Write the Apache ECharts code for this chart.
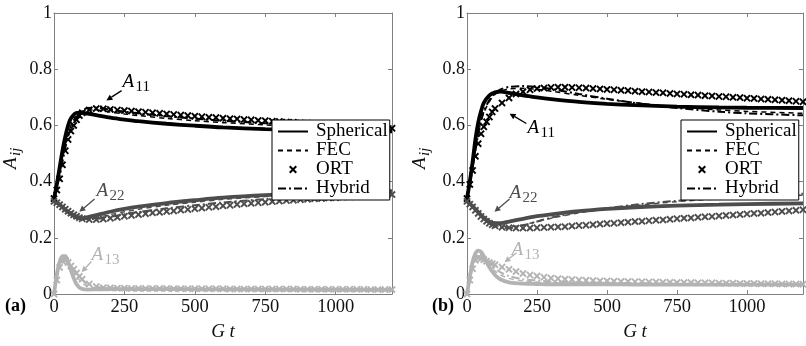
<!DOCTYPE html>
<html>
<head>
<meta charset="utf-8">
<script src="https://cdn.jsdelivr.net/npm/echarts@6/dist/echarts.min.js"></script>
<style>
html, body { margin: 0; padding: 0; background: #fff; }
#chart { width: 806px; height: 346px; }
</style>
</head>
<body>
<div id="chart"></div>
<script>
// time grids (G t)
const tLine = [0, 10, 20, 30, 40, 50, 60, 80, 100, 120, 150, 200, 250, 300, 400, 500, 600, 750, 900, 1000, 1200];
const tOrt = [0, 10, 20, 30, 40, 50, 60, 70, 80, 90, 100,
  125, 150, 175, 200, 225, 250, 275, 300, 325, 350, 375, 400, 425, 450, 475, 500,
  525, 550, 575, 600, 625, 650, 675, 700, 725, 750, 775, 800, 825, 850, 875, 900,
  925, 950, 975, 1000, 1025, 1050, 1075, 1100, 1125, 1150, 1175, 1200];
const xTicks = [0, 250, 500, 750, 1000];
const yTicks = [0, 0.2, 0.4, 0.6, 0.8, 1];
const models = ['Spherical', 'FEC', 'ORT', 'Hybrid'];

// panel (a)
const a_sph_A11 = [0.34, 0.39, 0.45, 0.51, 0.56, 0.60, 0.625, 0.645, 0.645, 0.642, 0.637, 0.628, 0.621, 0.615, 0.606, 0.599, 0.593, 0.587, 0.583, 0.581, 0.579];
const a_fec_A11 = [0.34, 0.38, 0.43, 0.48, 0.53, 0.57, 0.60, 0.635, 0.65, 0.655, 0.655, 0.648, 0.641, 0.635, 0.625, 0.617, 0.61, 0.602, 0.596, 0.593, 0.589];
const a_hyb_A11 = [0.34, 0.38, 0.42, 0.47, 0.52, 0.56, 0.59, 0.63, 0.652, 0.662, 0.663, 0.656, 0.649, 0.643, 0.633, 0.624, 0.617, 0.608, 0.601, 0.597, 0.592];
const a_sph_A22 = [0.33, 0.325, 0.318, 0.31, 0.30, 0.292, 0.285, 0.273, 0.27, 0.274, 0.281, 0.293, 0.303, 0.311, 0.324, 0.334, 0.343, 0.352, 0.358, 0.361, 0.366];
const a_fec_A22 = [0.33, 0.325, 0.318, 0.31, 0.301, 0.293, 0.286, 0.274, 0.268, 0.268, 0.272, 0.283, 0.293, 0.302, 0.316, 0.327, 0.337, 0.347, 0.354, 0.357, 0.362];
const a_hyb_A22 = [0.33, 0.325, 0.318, 0.31, 0.301, 0.294, 0.287, 0.276, 0.269, 0.267, 0.268, 0.275, 0.284, 0.292, 0.305, 0.316, 0.326, 0.338, 0.347, 0.351, 0.358];
const a_sph_A13 = [0, 0.07, 0.115, 0.135, 0.135, 0.115, 0.085, 0.035, 0.018, 0.016, 0.017, 0.018, 0.018, 0.018, 0.018, 0.017, 0.017, 0.016, 0.016, 0.015, 0.015];
const a_fec_A13 = [0, 0.06, 0.105, 0.127, 0.13, 0.118, 0.1, 0.065, 0.04, 0.028, 0.022, 0.02, 0.02, 0.019, 0.019, 0.018, 0.018, 0.017, 0.017, 0.017, 0.016];
const a_hyb_A13 = [0, 0.055, 0.1, 0.122, 0.125, 0.115, 0.1, 0.072, 0.05, 0.035, 0.026, 0.022, 0.021, 0.02, 0.019, 0.019, 0.018, 0.018, 0.017, 0.017, 0.016];
const a_ort_A11 = [0.34, 0.37, 0.41, 0.46, 0.51, 0.55, 0.58, 0.60, 0.62, 0.635, 0.645,
  0.655, 0.66, 0.659, 0.657, 0.655, 0.653, 0.651, 0.649, 0.647, 0.645, 0.643, 0.641, 0.639, 0.637, 0.635, 0.633,
  0.631, 0.629, 0.628, 0.626, 0.624, 0.623, 0.621, 0.62, 0.618, 0.617, 0.615, 0.614, 0.612, 0.611, 0.609, 0.608,
  0.606, 0.605, 0.603, 0.602, 0.6, 0.599, 0.597, 0.596, 0.594, 0.593, 0.591, 0.59];
const a_ort_A22 = [0.33, 0.325, 0.318, 0.31, 0.302, 0.295, 0.288, 0.282, 0.277, 0.272, 0.268,
  0.265, 0.265, 0.267, 0.27, 0.273, 0.277, 0.28, 0.283, 0.286, 0.289, 0.291, 0.294, 0.296, 0.299, 0.301, 0.304,
  0.306, 0.309, 0.311, 0.314, 0.316, 0.319, 0.321, 0.323, 0.325, 0.327, 0.329, 0.331, 0.333, 0.334, 0.336, 0.337,
  0.339, 0.34, 0.342, 0.343, 0.345, 0.346, 0.347, 0.349, 0.35, 0.351, 0.353, 0.354];
const a_ort_A13 = [0, 0.05, 0.095, 0.118, 0.12, 0.112, 0.1, 0.088, 0.075, 0.063, 0.053,
  0.036, 0.027, 0.023, 0.022, 0.021, 0.021, 0.02, 0.02, 0.02, 0.02, 0.02, 0.02, 0.019, 0.019, 0.019, 0.019,
  0.019, 0.019, 0.019, 0.019, 0.018, 0.018, 0.018, 0.018, 0.018, 0.018, 0.018, 0.018, 0.018, 0.018, 0.017, 0.017,
  0.017, 0.017, 0.017, 0.017, 0.017, 0.017, 0.017, 0.017, 0.016, 0.016, 0.016, 0.016];

// panel (b)
const b_sph_A11 = [0.34, 0.40, 0.47, 0.55, 0.61, 0.65, 0.68, 0.707, 0.718, 0.72, 0.716, 0.707, 0.70, 0.694, 0.684, 0.677, 0.672, 0.667, 0.664, 0.663, 0.662];
const b_fec_A11 = [0.34, 0.39, 0.45, 0.51, 0.57, 0.615, 0.645, 0.685, 0.71, 0.722, 0.73, 0.732, 0.728, 0.722, 0.707, 0.693, 0.681, 0.666, 0.655, 0.65, 0.643];
const b_hyb_A11 = [0.34, 0.39, 0.45, 0.51, 0.57, 0.615, 0.65, 0.69, 0.715, 0.728, 0.737, 0.74, 0.737, 0.73, 0.712, 0.695, 0.68, 0.662, 0.649, 0.643, 0.636];
const b_sph_A22 = [0.33, 0.322, 0.313, 0.302, 0.292, 0.281, 0.272, 0.258, 0.252, 0.252, 0.258, 0.268, 0.277, 0.284, 0.295, 0.303, 0.309, 0.315, 0.318, 0.32, 0.323];
const b_fec_A22 = [0.33, 0.322, 0.312, 0.301, 0.29, 0.279, 0.27, 0.255, 0.245, 0.241, 0.24, 0.246, 0.258, 0.27, 0.289, 0.303, 0.315, 0.329, 0.339, 0.344, 0.352];
const b_hyb_A22 = [0.33, 0.322, 0.312, 0.30, 0.289, 0.278, 0.268, 0.252, 0.242, 0.237, 0.235, 0.245, 0.258, 0.272, 0.292, 0.305, 0.318, 0.332, 0.342, 0.348, 0.357];
const b_sph_A13 = [0, 0.06, 0.115, 0.145, 0.155, 0.15, 0.135, 0.095, 0.068, 0.052, 0.042, 0.037, 0.036, 0.035, 0.035, 0.035, 0.034, 0.034, 0.034, 0.034, 0.034];
const b_fec_A13 = [0, 0.055, 0.1, 0.13, 0.14, 0.135, 0.125, 0.1, 0.082, 0.068, 0.056, 0.047, 0.043, 0.041, 0.039, 0.038, 0.037, 0.036, 0.035, 0.035, 0.034];
const b_hyb_A13 = [0, 0.05, 0.095, 0.125, 0.135, 0.132, 0.124, 0.105, 0.09, 0.077, 0.064, 0.053, 0.048, 0.045, 0.042, 0.04, 0.039, 0.037, 0.036, 0.036, 0.035];
const b_ort_A11 = [0.34, 0.39, 0.44, 0.49, 0.535, 0.57, 0.595, 0.613, 0.63, 0.648, 0.66,
  0.68, 0.698, 0.712, 0.72, 0.727, 0.731, 0.733, 0.735, 0.736, 0.736, 0.735, 0.734, 0.733, 0.731, 0.73, 0.728,
  0.727, 0.725, 0.724, 0.722, 0.72, 0.719, 0.717, 0.716, 0.714, 0.712, 0.711, 0.709, 0.708, 0.706, 0.705, 0.703,
  0.702, 0.7, 0.699, 0.697, 0.696, 0.694, 0.693, 0.691, 0.69, 0.688, 0.686, 0.684];
const b_ort_A22 = [0.33, 0.32, 0.31, 0.298, 0.287, 0.276, 0.267, 0.259, 0.252, 0.247, 0.243,
  0.238, 0.236, 0.235, 0.235, 0.235, 0.236, 0.237, 0.238, 0.239, 0.24, 0.242, 0.244, 0.245, 0.247, 0.249, 0.251,
  0.252, 0.254, 0.256, 0.258, 0.259, 0.261, 0.263, 0.264, 0.266, 0.268, 0.27, 0.271, 0.273, 0.275, 0.276, 0.278,
  0.28, 0.281, 0.283, 0.285, 0.287, 0.288, 0.29, 0.292, 0.294, 0.296, 0.298, 0.3];
const b_ort_A13 = [0, 0.05, 0.09, 0.12, 0.13, 0.127, 0.122, 0.117, 0.112, 0.108, 0.104,
  0.096, 0.088, 0.08, 0.073, 0.068, 0.064, 0.06, 0.057, 0.055, 0.053, 0.052, 0.05, 0.049, 0.048, 0.047, 0.047,
  0.046, 0.045, 0.045, 0.044, 0.044, 0.043, 0.043, 0.042, 0.042, 0.041, 0.041, 0.041, 0.04, 0.04, 0.04, 0.039,
  0.039, 0.039, 0.038, 0.038, 0.038, 0.037, 0.037, 0.037, 0.036, 0.036, 0.036, 0.035];

const FONT = "'Liberation Serif', 'Times New Roman', Times, 'DejaVu Serif', serif";
const cA11 = '#000000', cA22 = '#4d4d4d', cA13 = '#b3b3b3';
const axisColor = '#808080';
const crossPath = 'path://M0,1.8L1.8,0L5,3.2L8.2,0L10,1.8L6.8,5L10,8.2L8.2,10L5,6.8L1.8,10L0,8.2L3.2,5Z';

const styles = {
  Spherical: { width: 3.8, type: 'solid' },
  FEC: { width: 1.5, type: [5, 4] },
  Hybrid: { width: 2, type: [8, 3, 2, 3] }
};

function curve(name, panel, vals, color) {
  return {
    name: name, type: 'line', xAxisIndex: panel, yAxisIndex: panel,
    data: tLine.map((t, i) => [t, vals[i]]),
    smooth: 0.3, symbol: 'none', silent: true,
    lineStyle: Object.assign({ color: color }, styles[name]),
    itemStyle: { color: color }
  };
}
function ort(panel, vals, color) {
  return {
    name: 'ORT', type: 'line', xAxisIndex: panel, yAxisIndex: panel,
    data: tOrt.map((t, i) => [t, vals[i]]),
    symbol: crossPath, symbolSize: 7.5, showSymbol: true, silent: true,
    lineStyle: { color: color, opacity: 0 },
    itemStyle: { color: color }
  };
}

const series = [
  curve('Spherical', 0, a_sph_A11, cA11), curve('FEC', 0, a_fec_A11, cA11), ort(0, a_ort_A11, cA11), curve('Hybrid', 0, a_hyb_A11, cA11),
  curve('Spherical', 0, a_sph_A22, cA22), curve('FEC', 0, a_fec_A22, cA22), ort(0, a_ort_A22, cA22), curve('Hybrid', 0, a_hyb_A22, cA22),
  curve('Spherical', 0, a_sph_A13, cA13), curve('FEC', 0, a_fec_A13, cA13), ort(0, a_ort_A13, cA13), curve('Hybrid', 0, a_hyb_A13, cA13),
  curve('Spherical', 1, b_sph_A11, cA11), curve('FEC', 1, b_fec_A11, cA11), ort(1, b_ort_A11, cA11), curve('Hybrid', 1, b_hyb_A11, cA11),
  curve('Spherical', 1, b_sph_A22, cA22), curve('FEC', 1, b_fec_A22, cA22), ort(1, b_ort_A22, cA22), curve('Hybrid', 1, b_hyb_A22, cA22),
  curve('Spherical', 1, b_sph_A13, cA13), curve('FEC', 1, b_fec_A13, cA13), ort(1, b_ort_A13, cA13), curve('Hybrid', 1, b_hyb_A13, cA13)
];

const grids = [
  { left: 54, top: 13, width: 338, height: 293 },
  { left: 467, top: 13, width: 336, height: 293 }
];

function xAxis(g, top) {
  return {
    type: 'value', gridIndex: g, min: 0, max: 1200, interval: 250,
    position: top ? 'top' : 'bottom',
    axisLine: { show: true, onZero: false, lineStyle: { color: axisColor, width: 1 } },
    axisTick: { show: true, inside: true, length: 4, lineStyle: { color: axisColor } },
    axisLabel: {
      show: !top, margin: 4, fontFamily: FONT, fontSize: 18.5, color: '#111',
      formatter: v => xTicks.indexOf(v) >= 0 ? String(v) : ''
    },
    splitLine: { show: false },
    name: top ? '' : 'G t', nameLocation: 'middle', nameGap: 19,
    nameTextStyle: { fontFamily: FONT, fontSize: 19, fontStyle: 'italic', color: '#111' }
  };
}
function yAxis(g, right) {
  return {
    type: 'value', gridIndex: g, min: 0, max: 1, interval: 0.2,
    position: right ? 'right' : 'left',
    axisLine: { show: true, onZero: false, lineStyle: { color: axisColor, width: 1 } },
    axisTick: { show: true, inside: true, length: 4, lineStyle: { color: axisColor } },
    axisLabel: {
      show: !right, margin: 2, fontFamily: FONT, fontSize: 18, color: '#111',
      formatter: v => yTicks.indexOf(+v.toFixed(1)) >= 0 ? String(+v.toFixed(1)) : ''
    },
    splitLine: { show: false }
  };
}

// legend entries: lines hide the default circle, ORT keeps its cross
const legendData = models.map(m => m === 'ORT' ? { name: m } : { name: m, itemStyle: { opacity: 0 } });
const legends = [272, 681].map(left => ({
  left: left, top: 120, orient: 'vertical',
  data: legendData, selectedMode: false,
  itemWidth: 30, itemHeight: 10, itemGap: 0,
  padding: [2, 2, 2, 5],
  backgroundColor: '#fff', borderColor: '#000', borderWidth: 1, borderRadius: 0,
  textStyle: { fontFamily: FONT, fontSize: 19, color: '#000', padding: [0, 0, 0, 3] }
}));

const chart = echarts.init(document.getElementById('chart'), null, { renderer: 'canvas' });
chart.setOption({
  animation: false,
  backgroundColor: '#fff',
  grid: grids,
  xAxis: [xAxis(0, false), xAxis(1, false), xAxis(0, true), xAxis(1, true)],
  yAxis: [yAxis(0, false), yAxis(1, false), yAxis(0, true), yAxis(1, true)],
  legend: legends,
  series: series
});

// annotations: label anchor and arrow in data coordinates
const notes = [
  { g: 0, sub: '11', color: cA11, at: [243, 0.754], from: [240, 0.724], to: [186, 0.689] },
  { g: 0, sub: '22', color: cA22, at: [151, 0.365], from: [144, 0.338], to: [90, 0.293] },
  { g: 0, sub: '13', color: cA13, at: [133, 0.140], from: [133, 0.116], to: [98, 0.078] },
  { g: 1, sub: '11', color: cA11, at: [216, 0.590], from: [212, 0.607], to: [152, 0.642] },
  { g: 1, sub: '22', color: cA22, at: [152, 0.358], from: [152, 0.338], to: [98, 0.293] },
  { g: 1, sub: '13', color: cA13, at: [159, 0.157], from: [177, 0.147], to: [134, 0.113] }
];

function subLabel(x, y, main, sub, color, rot) {
  return {
    type: 'group', x: x, y: y, rotation: rot || 0, silent: true,
    children: [
      { type: 'text', style: { text: main, x: 0, y: 0, font: 'italic 19px ' + FONT, fill: color, align: 'left', verticalAlign: 'middle', textAlign: 'left', textVerticalAlign: 'middle' } },
      { type: 'text', style: { text: sub, x: 13, y: 5, font: (rot ? 'italic ' : '') + '15px ' + FONT, fill: color, align: 'left', verticalAlign: 'middle', textAlign: 'left', textVerticalAlign: 'middle' } }
    ]
  };
}

const graphics = [];
notes.forEach(n => {
  const p = chart.convertToPixel({ gridIndex: n.g }, n.at);
  const a = chart.convertToPixel({ gridIndex: n.g }, n.from);
  const b = chart.convertToPixel({ gridIndex: n.g }, n.to);
  graphics.push(subLabel(p[0], p[1], 'A', n.sub, n.color));
  const dx = b[0] - a[0], dy = b[1] - a[1];
  const len = Math.sqrt(dx * dx + dy * dy);
  const ux = dx / len, uy = dy / len;
  const hl = 6, hw = 3;
  const bx = b[0] - ux * hl, by = b[1] - uy * hl;
  graphics.push({ type: 'line', silent: true, shape: { x1: a[0], y1: a[1], x2: bx, y2: by }, style: { stroke: n.color, lineWidth: 1.3 } });
  graphics.push({ type: 'polygon', silent: true, shape: { points: [[b[0], b[1]], [bx - uy * hw, by + ux * hw], [bx + uy * hw, by - ux * hw]] }, style: { fill: n.color } });
});
// y-axis titles A_ij
graphics.push(subLabel(11, 169, 'A', 'ij', '#111', Math.PI / 2));
graphics.push(subLabel(420, 169, 'A', 'ij', '#111', Math.PI / 2));
// panel tags
graphics.push({ type: 'text', silent: true, style: { text: '(a)', x: 5, y: 306, font: 'bold 18px ' + FONT, fill: '#000', verticalAlign: 'middle', textVerticalAlign: 'middle' } });
graphics.push({ type: 'text', silent: true, style: { text: '(b)', x: 432, y: 306, font: 'bold 18px ' + FONT, fill: '#000', verticalAlign: 'middle', textVerticalAlign: 'middle' } });

chart.setOption({ graphic: graphics });
</script>
</body>
</html>
